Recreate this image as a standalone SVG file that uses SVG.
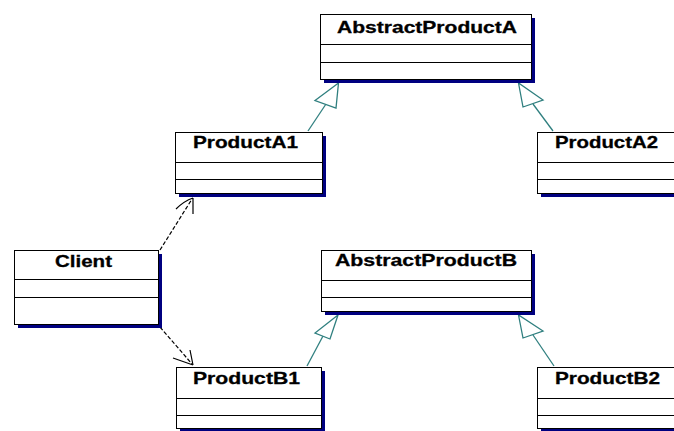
<svg xmlns="http://www.w3.org/2000/svg" width="674" height="431" viewBox="0 0 674 431">
<style>
.sh{fill:#000080;}
.bx{fill:#ffffff;stroke:#000000;stroke-width:1;}
.dv{stroke:#000000;stroke-width:1;}
.t{font-family:"Liberation Sans",Arial,sans-serif;font-weight:bold;font-size:16.5px;fill:#000000;stroke:#000000;stroke-width:0.3;}
.gen{stroke:#2f7f7f;stroke-width:1.3;fill:none;}
.tri{stroke:#2f7f7f;stroke-width:1.3;fill:#ffffff;}
.dep{stroke:#000000;stroke-width:1.2;fill:none;stroke-dasharray:4,2;}
.head{stroke:#000000;stroke-width:1.2;fill:none;}
</style>
<rect width="674" height="431" fill="#ffffff"/>
<g id="connectors">
  <line class="gen" x1="308" y1="131" x2="326" y2="104"/>
  <polygon class="tri" points="338.5,83 315,100.5 336,108"/>
  <line class="gen" x1="553" y1="131" x2="533" y2="104"/>
  <polygon class="tri" points="518.5,83 523,107 543,100"/>
  <line class="gen" x1="307" y1="366" x2="323" y2="336"/>
  <polygon class="tri" points="338,315 315,333 330,339"/>
  <line class="gen" x1="554" y1="366" x2="533" y2="335"/>
  <polygon class="tri" points="518.5,315 523,338 543,331"/>
  <line class="dep" x1="160" y1="250" x2="192" y2="199"/>
  <path class="head" d="M176,209 Q184,201 193,198 M193,214 L193,198"/>
  <line class="dep" x1="160" y1="327" x2="192" y2="364"/>
  <path class="head" d="M173,358 L193,365 M190,350 L193,365"/>
</g>
<g id="AbstractProductA">
  <rect class="sh" x="324" y="18" width="211" height="65"/>
  <rect class="bx" x="320.5" y="14.5" width="211" height="65"/>
  <line class="dv" x1="320.5" y1="44.5" x2="531.5" y2="44.5"/>
  <line class="dv" x1="320.5" y1="62.5" x2="531.5" y2="62.5"/>
  <text class="t" x="337" y="33" textLength="180" lengthAdjust="spacingAndGlyphs">AbstractProductA</text>
</g>
<g id="ProductA1">
  <rect class="sh" x="179" y="136" width="147" height="61"/>
  <rect class="bx" x="175.5" y="132.5" width="147" height="61"/>
  <line class="dv" x1="175.5" y1="162.5" x2="322.5" y2="162.5"/>
  <line class="dv" x1="175.5" y1="179.5" x2="322.5" y2="179.5"/>
  <text class="t" x="193" y="148" textLength="105" lengthAdjust="spacingAndGlyphs">ProductA1</text>
</g>
<g id="ProductA2">
  <rect class="sh" x="541" y="136" width="147" height="61"/>
  <rect class="bx" x="537.5" y="132.5" width="147" height="61"/>
  <line class="dv" x1="537.5" y1="162.5" x2="684.5" y2="162.5"/>
  <line class="dv" x1="537.5" y1="179.5" x2="684.5" y2="179.5"/>
  <text class="t" x="555" y="148" textLength="103" lengthAdjust="spacingAndGlyphs">ProductA2</text>
</g>
<g id="Client">
  <rect class="sh" x="18" y="254" width="144" height="74"/>
  <rect class="bx" x="14.5" y="250.5" width="144" height="74"/>
  <line class="dv" x1="14.5" y1="279.5" x2="158.5" y2="279.5"/>
  <line class="dv" x1="14.5" y1="297.5" x2="158.5" y2="297.5"/>
  <text class="t" x="55" y="267" textLength="57" lengthAdjust="spacingAndGlyphs">Client</text>
</g>
<g id="AbstractProductB">
  <rect class="sh" x="325" y="254" width="210" height="61"/>
  <rect class="bx" x="321.5" y="250.5" width="210" height="61"/>
  <line class="dv" x1="321.5" y1="280.5" x2="531.5" y2="280.5"/>
  <line class="dv" x1="321.5" y1="297.5" x2="531.5" y2="297.5"/>
  <text class="t" x="335" y="266" textLength="182" lengthAdjust="spacingAndGlyphs">AbstractProductB</text>
</g>
<g id="ProductB1">
  <rect class="sh" x="180" y="371" width="145" height="61"/>
  <rect class="bx" x="176.5" y="367.5" width="145" height="61"/>
  <line class="dv" x1="176.5" y1="398.5" x2="321.5" y2="398.5"/>
  <line class="dv" x1="176.5" y1="415.5" x2="321.5" y2="415.5"/>
  <text class="t" x="193" y="384" textLength="107" lengthAdjust="spacingAndGlyphs">ProductB1</text>
</g>
<g id="ProductB2">
  <rect class="sh" x="541" y="371" width="147" height="61"/>
  <rect class="bx" x="537.5" y="367.5" width="147" height="61"/>
  <line class="dv" x1="537.5" y1="398.5" x2="684.5" y2="398.5"/>
  <line class="dv" x1="537.5" y1="415.5" x2="684.5" y2="415.5"/>
  <text class="t" x="555" y="384" textLength="105" lengthAdjust="spacingAndGlyphs">ProductB2</text>
</g>
</svg>
